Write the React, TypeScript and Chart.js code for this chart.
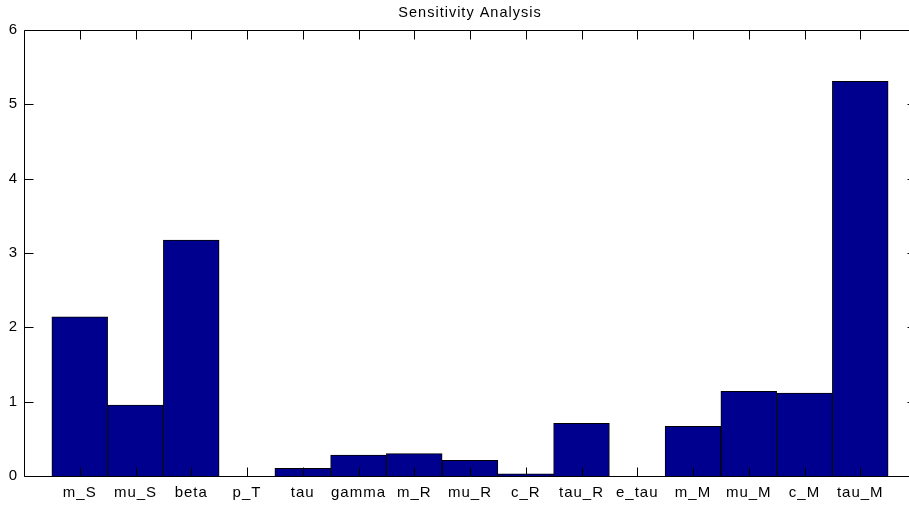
import React, { useEffect, useRef } from "react";
import { Chart, registerables } from "chart.js";

Chart.register(...registerables);

// Parameter names along the horizontal axis
const categories = [
  "m_S", "mu_S", "beta", "p_T", "tau", "gamma", "m_R", "mu_R",
  "c_R", "tau_R", "e_tau", "m_M", "mu_M", "c_M", "tau_M",
];

// Sensitivity index for each parameter
const sensitivity = [
  2.14, 0.955, 3.175, 0, 0.104, 0.28, 0.3, 0.21,
  0.03, 0.71, 0, 0.668, 1.14, 1.117, 5.31,
];

// Value-axis ticks
const yTicks = [0, 1, 2, 3, 4, 5, 6];

const FONT = '"Liberation Sans", Arial, Helvetica, sans-serif';
const BAR_FILL = "#00008F";

// Boxed axes with short inward tick marks on all four sides
const boxFrame = {
  id: "boxFrame",
  beforeDraw(chart: any) {
    (chart.ctx as any).letterSpacing = "1px";
  },
  afterDraw(chart: any) {
    const { ctx, chartArea } = chart;
    const xs = chart.scales.x;
    const ys = chart.scales.y;
    const L = Math.round(chartArea.left) + 0.5;
    const R = Math.round(chartArea.right) + 0.5;
    const T = Math.round(chartArea.top) + 0.5;
    const B = Math.round(chartArea.bottom) + 0.5;
    const len = 9;
    ctx.save();
    ctx.strokeStyle = "#000";
    ctx.lineWidth = 1;
    ctx.beginPath();
    ctx.rect(L, T, R - L, B - T);
    categories.forEach((_, i) => {
      const px = Math.round(xs.getPixelForValue(i + 1)) + 0.5;
      ctx.moveTo(px, B);
      ctx.lineTo(px, B - len);
      ctx.moveTo(px, T);
      ctx.lineTo(px, T + len);
    });
    yTicks.forEach((v) => {
      const py = Math.round(ys.getPixelForValue(v)) + 0.5;
      ctx.moveTo(L, py);
      ctx.lineTo(L + len, py);
      ctx.moveTo(R, py);
      ctx.lineTo(R - len, py);
    });
    ctx.stroke();
    ctx.restore();
  },
};

export default function App() {
  const canvasRef = useRef<HTMLCanvasElement | null>(null);

  useEffect(() => {
    const canvas = canvasRef.current;
    if (!canvas) return;
    Chart.defaults.font.family = FONT;
    const chart = new Chart(canvas, {
      type: "bar",
      data: {
        datasets: [
          {
            label: "Sensitivity",
            data: categories.map((_, i) => ({ x: i + 1, y: sensitivity[i] })),
            backgroundColor: BAR_FILL,
            borderColor: "#000",
            borderWidth: 1,
            barPercentage: 1,
            categoryPercentage: 1,
          },
        ],
      },
      options: {
        responsive: false,
        animation: false,
        devicePixelRatio: 1,
        layout: { padding: { left: 0, right: 14, top: 0, bottom: 0 } },
        plugins: {
          legend: { display: false },
          tooltip: { enabled: false },
          title: {
            display: true,
            fullSize: false,
            text: "Sensitivity Analysis",
            color: "#000",
            font: { family: FONT, size: 14.5, weight: "normal" },
            padding: { top: 4, bottom: 8.6 },
          },
        },
        scales: {
          x: {
            type: "linear",
            min: 0,
            max: 16,
            offset: false,
            grid: { display: false, drawTicks: false },
            border: { display: false },
            ticks: {
              stepSize: 1,
              autoSkip: false,
              maxRotation: 0,
              minRotation: 0,
              color: "#000",
              font: { family: FONT, size: 15 },
              padding: 8,
              callback: (v: any) => categories[Number(v) - 1] ?? "",
            },
            afterFit: (s: any) => {
              s.height = 30;
            },
          },
          y: {
            min: 0,
            max: 6,
            grid: { display: false, drawTicks: false },
            border: { display: false },
            ticks: {
              stepSize: 1,
              color: "#000",
              font: { family: FONT, size: 15 },
              padding: 6,
            },
            afterFit: (s: any) => {
              s.width = 24;
            },
          },
        },
      },
      plugins: [boxFrame],
    } as any);
    return () => chart.destroy();
  }, []);

  return (
    <div
      style={{
        position: "fixed",
        left: 0,
        top: 0,
        width: 909,
        height: 506,
        overflow: "hidden",
        background: "#fff",
      }}
    >
      <canvas
        ref={canvasRef}
        width={930}
        height={506}
        style={{ display: "block", width: 930, height: 506 }}
      />
    </div>
  );
}
